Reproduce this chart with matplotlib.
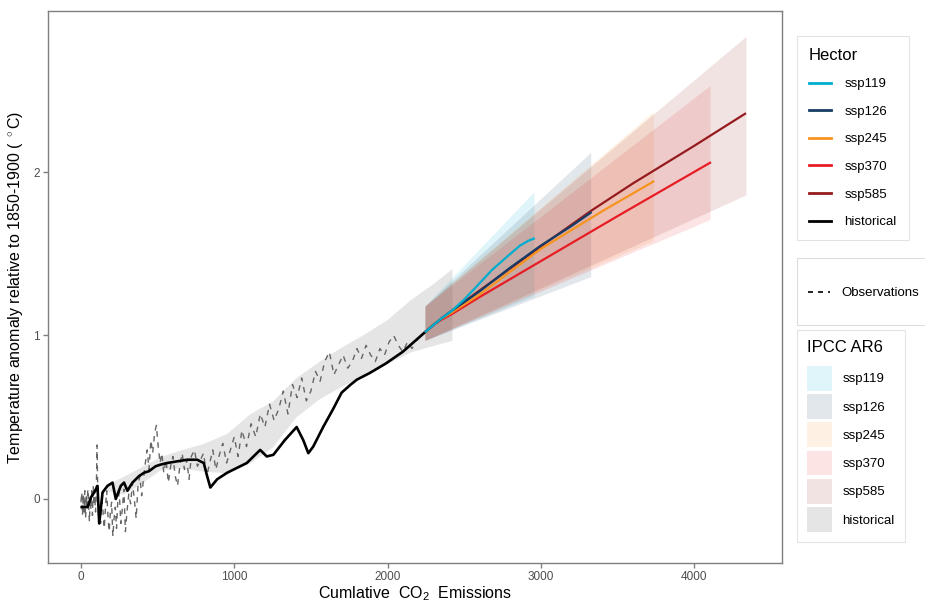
"""Cumulative CO2 emissions vs. temperature anomaly: Hector runs against IPCC AR6 ranges."""
import matplotlib
matplotlib.use("Agg")
import matplotlib.pyplot as plt
from matplotlib.lines import Line2D
from matplotlib.patches import Patch, Rectangle

# --- Hector historical run -------------------------------------------------
hist_x = [5, 43, 65, 87, 108, 119, 141, 173, 206, 227, 260, 281, 303, 336, 379,
          411, 444, 487, 519, 563, 628, 693, 758, 779, 801, 823, 844, 888, 953,
          1039, 1082, 1169, 1212, 1255, 1330, 1407, 1450, 1483, 1515, 1580, 1645,
          1700, 1760, 1800, 1883, 1991, 2099, 2244]
hist_y = [-0.05, -0.05, 0.01, 0.04, 0.08, -0.15, 0.04, 0.08, 0.10, 0.00, 0.08,
          0.10, 0.05, 0.10, 0.14, 0.16, 0.17, 0.20, 0.21, 0.22, 0.23, 0.24,
          0.24, 0.23, 0.22, 0.14, 0.07, 0.12, 0.16, 0.20, 0.22, 0.30, 0.26,
          0.27, 0.36, 0.44, 0.36, 0.28, 0.32, 0.44, 0.55, 0.65, 0.70, 0.73,
          0.77, 0.83, 0.90, 1.02]

# --- Hector scenario runs --------------------------------------------------
scenarios = ["ssp119", "ssp126", "ssp245", "ssp370", "ssp585"]
colors = {"ssp119": "#00adcf", "ssp126": "#173c66", "ssp245": "#f79420",
          "ssp370": "#e71d25", "ssp585": "#951b1e"}

ssp119_x = [2244, 2300, 2360, 2418, 2500, 2581, 2680, 2777, 2864, 2920, 2961]
ssp119_y = [1.02, 1.065, 1.11, 1.15, 1.22, 1.30, 1.40, 1.48, 1.55, 1.58, 1.595]
ssp126_x = [2244, 2300, 2360, 2418, 2600, 2800, 3000, 3200, 3331]
ssp126_y = [1.02, 1.065, 1.11, 1.15, 1.27, 1.415, 1.55, 1.67, 1.755]
ssp245_x = [2244, 2290, 2340, 2418, 2600, 2800, 3000, 3400, 3740]
ssp245_y = [1.02, 1.06, 1.095, 1.14, 1.25, 1.39, 1.53, 1.76, 1.945]
ssp370_x = [2244, 2290, 2340, 2418, 2600, 3000, 3500, 4110]
ssp370_y = [1.02, 1.06, 1.09, 1.13, 1.235, 1.455, 1.73, 2.06]
ssp585_x = [2244, 2300, 2360, 2418, 2600, 2800, 3000, 3331, 3600, 4000, 4338]
ssp585_y = [1.02, 1.065, 1.11, 1.15, 1.275, 1.41, 1.545, 1.765, 1.93, 2.16, 2.36]

# --- IPCC AR6 assessed ranges ----------------------------------------------
ssp119_band_x = [2244, 2955]
ssp119_band_lo = [0.97, 1.24]
ssp119_band_hi = [1.18, 1.88]
ssp126_band_x = [2244, 3325]
ssp126_band_lo = [0.97, 1.36]
ssp126_band_hi = [1.18, 2.12]
ssp245_band_x = [2244, 3734]
ssp245_band_lo = [0.97, 1.58]
ssp245_band_hi = [1.18, 2.37]
ssp370_band_x = [2244, 4104]
ssp370_band_lo = [0.97, 1.71]
ssp370_band_hi = [1.18, 2.53]
ssp585_band_x = [2244, 4338]
ssp585_band_lo = [0.97, 1.86]
ssp585_band_hi = [1.18, 2.83]

histband_x = [170, 280, 400, 520, 650, 800, 950, 1100, 1250, 1400, 1550, 1700,
              1850, 2000, 2150, 2300, 2420]
histband_lo = [0.05, 0.03, 0.10, 0.18, 0.19, 0.17, 0.16, 0.22, 0.32, 0.50, 0.61,
               0.69, 0.76, 0.83, 0.90, 0.94, 0.97]
histband_hi = [0.09, 0.14, 0.20, 0.26, 0.30, 0.34, 0.40, 0.52, 0.60, 0.74, 0.84,
               0.93, 1.01, 1.10, 1.22, 1.32, 1.41]

# --- Observations ----------------------------------------------------------
obs_x = [0, 5, 10, 15, 20, 25, 30, 35, 40, 45, 50, 55, 60, 65, 70, 75, 80, 85,
         90, 95, 100, 105, 110, 115, 120, 128, 136, 144, 152, 160, 168, 176,
         184, 192, 200, 208, 216, 224, 232, 240, 250, 260, 270, 280, 290, 300,
         312, 324, 336, 348, 360, 372, 384, 396, 408, 420, 432, 444, 456, 468,
         480, 492, 504, 516, 528, 540, 555, 570, 585, 600, 615, 630, 645, 660,
         675, 690, 705, 720, 740, 760, 780, 800, 820, 840, 860, 880, 900, 925,
         950, 975, 1000, 1025, 1050, 1080, 1110, 1140, 1170, 1200, 1230, 1260,
         1290, 1320, 1350, 1380, 1410, 1440, 1470, 1500, 1530, 1560, 1590,
         1620, 1650, 1680, 1710, 1740, 1770, 1800, 1830, 1860, 1890, 1920,
         1950, 1980, 2010, 2040, 2070, 2100, 2130, 2160, 2190, 2210]
obs_y = [-0.02, 0.04, -0.10, 0.03, -0.08, 0.05, -0.12, 0.02, -0.05, 0.06,
         -0.03, -0.14, 0.00, -0.06, 0.05, -0.10, 0.08, -0.04, 0.02, -0.08,
         0.05, 0.33, 0.02, -0.12, -0.05, -0.15, 0.02, -0.08, -0.18, -0.05,
         0.05, -0.10, -0.20, -0.08, -0.02, -0.23, -0.12, -0.05, -0.18, -0.02,
         0.04, -0.15, -0.06, 0.06, -0.20, -0.08, 0.03, -0.03, 0.10, 0.00,
         -0.12, 0.08, 0.14, 0.02, 0.12, 0.22, 0.30, 0.18, 0.36, 0.28, 0.40,
         0.45, 0.32, 0.22, 0.28, 0.16, 0.24, 0.10, 0.20, 0.26, 0.14, 0.08,
         0.20, 0.28, 0.18, 0.24, 0.12, 0.26, 0.30, 0.20, 0.24, 0.28, 0.14,
         0.22, 0.30, 0.18, 0.26, 0.34, 0.22, 0.30, 0.38, 0.26, 0.42, 0.32,
         0.46, 0.38, 0.52, 0.44, 0.58, 0.48, 0.55, 0.66, 0.52, 0.70, 0.62,
         0.74, 0.60, 0.66, 0.78, 0.72, 0.84, 0.90, 0.76, 0.82, 0.88, 0.80,
         0.84, 0.92, 0.86, 0.94, 0.88, 0.84, 0.92, 0.88, 0.96, 1.00, 0.94,
         0.90, 0.96, 0.92, 0.98, 0.95]

x_ticks = [0, 1000, 2000, 3000, 4000]
y_ticks = [0, 1, 2]

BAND_ALPHA = 0.12
W, H = 925, 603


def main():
    plt.rcParams["font.family"] = ["Liberation Sans", "DejaVu Sans"]
    plt.rcParams["mathtext.fontset"] = "custom"
    plt.rcParams["mathtext.rm"] = "Liberation Sans"
    plt.rcParams["mathtext.it"] = "Liberation Sans:italic"

    fig = plt.figure(figsize=(W / 100, H / 100), dpi=100)
    ax = fig.add_axes([48.3 / W, 1 - 562.7 / H, (781.7 - 48.3) / W, (562.7 - 11) / H])

    bands = {
        "ssp119": (ssp119_band_x, ssp119_band_lo, ssp119_band_hi),
        "ssp126": (ssp126_band_x, ssp126_band_lo, ssp126_band_hi),
        "ssp245": (ssp245_band_x, ssp245_band_lo, ssp245_band_hi),
        "ssp370": (ssp370_band_x, ssp370_band_lo, ssp370_band_hi),
        "ssp585": (ssp585_band_x, ssp585_band_lo, ssp585_band_hi),
    }
    runs = {
        "ssp119": (ssp119_x, ssp119_y),
        "ssp126": (ssp126_x, ssp126_y),
        "ssp245": (ssp245_x, ssp245_y),
        "ssp370": (ssp370_x, ssp370_y),
        "ssp585": (ssp585_x, ssp585_y),
    }

    ax.fill_between(histband_x, histband_lo, histband_hi, color="#bebebe",
                    alpha=0.4, linewidth=0)
    for name in scenarios:
        bx, lo, hi = bands[name]
        ax.fill_between(bx, lo, hi, color=colors[name], alpha=BAND_ALPHA, linewidth=0)

    ax.plot(obs_x, obs_y, color="#666666", lw=1.0, linestyle=(0, (4, 4)))
    ax.plot(hist_x, hist_y, color="black", lw=1.9, solid_joinstyle="round")
    for name in ["ssp585", "ssp370", "ssp245", "ssp126", "ssp119"]:
        rx, ry = runs[name]
        ax.plot(rx, ry, color=colors[name], lw=1.6, solid_capstyle="butt",
                solid_joinstyle="round")

    ax.set_xlim(-213, 4571)
    ax.set_ylim(-0.39, 2.985)
    ax.set_xticks(x_ticks)
    ax.set_yticks(y_ticks)
    ax.tick_params(colors="#7f7f7f", labelcolor="#4d4d4d", labelsize=8.5,
                   length=3.5, width=1, pad=2.5)
    for sp in ax.spines.values():
        sp.set_color("#7f7f7f")
        sp.set_linewidth(1.0)

    ax.set_xlabel(r"Cumlative  CO$_2$  Emissions", fontsize=11.5, labelpad=1)
    ax.set_ylabel(r"Temperature anomaly relative to 1850-1900 ( $^\circ$C)",
                  fontsize=11.5, labelpad=6)

    # Legends: Hector lines, observations, IPCC AR6 ranges
    hector_handles = [Line2D([], [], color=colors[n], lw=2) for n in scenarios]
    hector_handles.append(Line2D([], [], color="black", lw=2))
    leg1 = fig.legend(hector_handles, scenarios + ["historical"], title="Hector",
                      loc="upper left", bbox_to_anchor=(797 / W, 1 - 36 / H),
                      borderaxespad=0, frameon=True, fancybox=False,
                      edgecolor="#dddddd", fontsize=9.5, title_fontsize=12,
                      handlelength=1.7, handletextpad=1.0, labelspacing=1.16,
                      borderpad=0.9, alignment="left")
    leg1.get_frame().set_linewidth(0.8)

    # observation key sits in its own untitled box
    fig.patches.append(Rectangle((797 / W, 1 - 325 / H), 140 / W, 67 / H,
                                 transform=fig.transFigure, facecolor="white",
                                 edgecolor="#dddddd", linewidth=0.8))
    obs_handle = Line2D([], [], color="black", lw=1.2, linestyle=(0, (3, 3)))
    fig.legend([obs_handle], ["Observations"], loc="center left",
               bbox_to_anchor=(797 / W, 1 - 293 / H), borderaxespad=0,
               frameon=False, fontsize=9.5, handlelength=1.7,
               handletextpad=0.9, borderpad=0.8)

    ipcc_handles = [Patch(facecolor=colors[n], alpha=BAND_ALPHA, linewidth=0) for n in scenarios]
    ipcc_handles.append(Patch(facecolor="#bebebe", alpha=0.4, linewidth=0))
    leg3 = fig.legend(ipcc_handles, scenarios + ["historical"], title="IPCC AR6",
                      loc="upper left", bbox_to_anchor=(797 / W, 1 - 330 / H),
                      borderaxespad=0, frameon=True, fancybox=False,
                      edgecolor="#dddddd", fontsize=9.5, title_fontsize=12,
                      handlelength=1.9, handleheight=2.5, handletextpad=0.8,
                      labelspacing=0.27, borderpad=0.75, alignment="left")
    leg3._legend_box.sep = 8  # extra room under the title
    leg3.get_frame().set_linewidth(0.8)

    fig.savefig("out.png", dpi=100)
    plt.close(fig)


if __name__ == "__main__":
    main()
